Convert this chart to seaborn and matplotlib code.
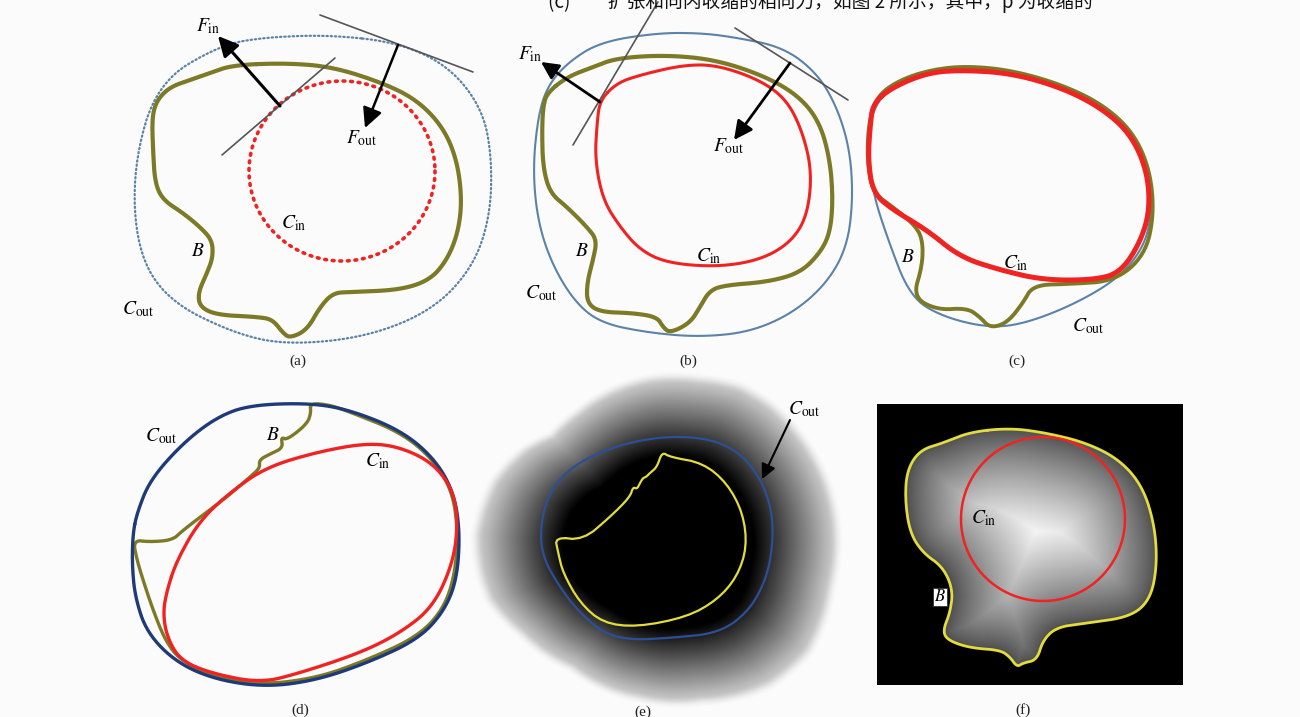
import numpy as np
import matplotlib
matplotlib.use("Agg")
import matplotlib.pyplot as plt
from matplotlib.path import Path
from matplotlib.colors import LinearSegmentedColormap
import seaborn as sns

# ---------------- data (pixel coordinates) ----------------
# panel (a)
A_COUT_X = [333, 400, 450, 483, 492, 490, 473, 433, 367, 287, 233, 167, 137, 133, 157, 220, 267]
A_COUT_Y = [35, 43, 67, 110, 160, 217, 267, 310, 337, 345, 333, 300, 250, 167, 83, 45, 37]
A_B_X = [233, 287, 333, 383, 417, 443, 457, 462, 458, 447, 430, 400, 350, 333, 320, 307, 290, 283,
         273, 260, 217, 200, 198, 207, 213, 212, 200, 183, 163, 155, 153, 152, 157, 170, 190, 210]
A_B_Y = [65, 63, 67, 83, 100, 127, 160, 200, 233, 260, 280, 290, 292, 293, 307, 330, 338, 333,
         320, 317, 315, 307, 293, 273, 257, 240, 227, 213, 200, 183, 150, 117, 100, 87, 80, 73]
A_CIN_CENTER = (342, 171)
A_CIN_RADII = (93, 90)
A_TANGENT1 = [(222, 155), (335, 58)]
A_TANGENT2 = [(320, 15), (473, 72)]
A_FIN = [(280, 106), (218, 36)]
A_FOUT = [(398, 45), (365, 128)]

# panel (b)
B_COUT_X = [657, 600, 567, 547, 538, 533, 537, 550, 573, 600, 650, 700, 750, 793, 827, 847, 853, 850,
            837, 817, 783, 733, 700]
B_COUT_Y = [33, 42, 63, 87, 117, 167, 217, 260, 300, 323, 333, 337, 332, 313, 283, 247, 200, 150,
            107, 73, 47, 37, 33]
B_B_X = [547, 567, 593, 617, 667, 717, 767, 800, 820, 830, 833, 830, 820, 800, 767, 727, 710, 700,
         690, 670, 663, 657, 633, 600, 587, 587, 593, 597, 587, 567, 550, 543, 542, 543]
B_B_Y = [93, 77, 67, 58, 55, 60, 77, 97, 123, 160, 200, 233, 253, 273, 282, 285, 290, 307,
         323, 333, 327, 317, 313, 312, 303, 283, 260, 240, 227, 207, 193, 167, 133, 107]
B_CIN_X = [600, 617, 640, 683, 717, 760, 787, 803, 812, 807, 790, 760, 717, 667, 640, 620, 603, 595, 597]
B_CIN_Y = [100, 83, 75, 65, 65, 80, 100, 133, 173, 217, 243, 260, 267, 263, 250, 227, 200, 160, 123]
B_TANGENT1 = [(573, 145), (658, 2)]
B_TANGENT2 = [(735, 28), (848, 100)]
B_FIN = [(600, 102), (541, 62)]
B_FOUT = [(790, 63), (734, 140)]

# panel (c)
C_COUT_X = [868, 872, 890, 925, 960, 1010, 1060, 1100, 1130, 1147, 1152, 1145, 1120, 1077, 1027, 990,
            943, 910, 887, 873]
C_COUT_Y = [150, 110, 88, 73, 68, 71, 85, 105, 132, 168, 210, 245, 277, 303, 323, 328,
            317, 297, 237, 193]
C_B_X = [869, 878, 900, 930, 965, 1010, 1060, 1102, 1133, 1150, 1154, 1145, 1115, 1070, 1033, 1023, 1007,
         990, 980, 967, 937, 913, 922, 923, 917, 893, 873, 867]
C_B_Y = [120, 95, 80, 70, 66, 70, 84, 104, 132, 170, 215, 255, 281, 284, 285, 303, 323,
         328, 317, 308, 310, 297, 267, 243, 227, 207, 193, 160]
C_CIN_X = [873, 893, 927, 960, 1010, 1060, 1100, 1130, 1147, 1150, 1140, 1120, 1093, 1043, 1000, 960,
           927, 893, 873, 868, 870]
C_CIN_Y = [103, 87, 73, 70, 73, 87, 107, 133, 170, 210, 243, 273, 280, 280, 270, 257,
           230, 210, 193, 160, 127]

# panel (d)
D_COUT_X = [133, 137, 150, 183, 217, 250, 310, 350, 400, 433, 453, 460, 457, 443, 417, 367, 317, 267,
            217, 177, 147, 135, 132]
D_COUT_Y = [533, 513, 480, 443, 417, 405, 403, 410, 430, 457, 490, 530, 580, 613, 640, 663, 680, 687,
            680, 663, 633, 597, 563]
D_CIN_X = [167, 177, 200, 233, 267, 317, 367, 400, 433, 453, 458, 453, 433, 400, 360, 300, 260, 210,
           180, 167, 163]
D_CIN_Y = [590, 560, 520, 490, 467, 452, 443, 447, 463, 490, 523, 563, 607, 633, 653, 673, 683, 673,
           660, 637, 613]
D_B_X = [310, 311, 307, 287, 281, 283, 270, 259, 260, 250, 227, 183, 173, 150, 133, 137, 143, 153, 165,
         180, 210, 260, 317, 367, 417, 443, 455, 458, 452, 432, 400, 350, 330]
D_B_Y = [403, 413, 424, 440, 437, 448, 454, 460, 468, 477, 497, 530, 540, 542, 540, 560, 580, 610, 640,
         660, 675, 685, 678, 660, 637, 610, 575, 530, 490, 458, 432, 412, 405]

# panel (e)
E_FIELD_CENTER = (660, 545)
E_FIELD_ANGLES = [14, 36, 52, 75, 98, 126, 147, 162, 172, 183, 201, 215, 225, 238, 252, 266, 283, 297,
                  308, 323, 335, 352]          # degrees, image orientation
E_FIELD_RADII = [178, 185, 180, 164, 157, 154, 167, 182, 185, 187, 180, 168, 156, 158, 163, 168, 172, 179,
                 180, 179, 179, 179]
E_COUT_X = [540, 547, 567, 603, 653, 703, 737, 760, 772, 773, 767, 750, 720, 670, 630, 603, 577, 557, 543]
E_COUT_Y = [530, 497, 470, 450, 437, 437, 450, 477, 510, 543, 577, 610, 633, 638, 640, 633, 610, 583, 557]
E_B_X = [555, 583, 610, 630, 633, 637, 640, 643, 646, 650, 657, 662, 670, 703, 727, 743, 747, 737, 717,
         687, 637, 603, 580, 563, 558]
E_B_Y = [537, 540, 517, 497, 487, 489, 483, 478, 477, 473, 467, 452, 457, 463, 483, 513, 547, 577, 600,
         617, 627, 623, 603, 573, 552]
E_ARROW = [(790, 420), (762, 479)]

# panel (f)
F_BOX = (877, 405, 1182, 685)
F_B_X = [970, 1010, 1047, 1087, 1120, 1143, 1155, 1157, 1150, 1130, 1087, 1057, 1043, 1037, 1023, 1017,
         1010, 1000, 970, 947, 943, 950, 953, 943, 923, 910, 905, 907, 920, 943]
F_B_Y = [432, 428, 433, 443, 460, 487, 527, 567, 600, 617, 623, 627, 640, 660, 663, 667,
         657, 650, 648, 640, 630, 613, 590, 567, 553, 533, 500, 470, 450, 443]
F_CIN_CENTER = (1043, 519)
F_CIN_RADIUS = 82

# labels
PANEL_LABELS = ["(a)", "(b)", "(c)", "(d)", "(e)", "(f)"]
PANEL_LABEL_POS = [(298, 361), (688, 361), (1017, 361), (300, 710), (643, 712), (1023, 710)]
MATH_LABELS = [
    (r"$F_{\mathrm{in}}$", 208, 26), (r"$F_{\mathrm{out}}$", 362, 138), (r"$C_{\mathrm{in}}$", 294, 223),
    (r"$B$", 198, 252), (r"$C_{\mathrm{out}}$", 138, 309),
    (r"$F_{\mathrm{in}}$", 530, 54), (r"$F_{\mathrm{out}}$", 729, 146), (r"$C_{\mathrm{in}}$", 709, 256),
    (r"$B$", 582, 252), (r"$C_{\mathrm{out}}$", 541, 293),
    (r"$B$", 908, 258), (r"$C_{\mathrm{in}}$", 1016, 263), (r"$C_{\mathrm{out}}$", 1088, 326),
    (r"$C_{\mathrm{out}}$", 161, 436), (r"$B$", 273, 436), (r"$C_{\mathrm{in}}$", 378, 461),
    (r"$C_{\mathrm{out}}$", 804, 409),
    (r"$C_{\mathrm{in}}$", 984, 518),
]
TOP_TEXT = "(c)　　扩张和向内收缩的相向力，如图 2 所示，其中，p 为收缩的"

# ---------------- styling ----------------
sns.set_theme(style="white")
plt.rcParams["mathtext.fontset"] = "stix"
plt.rcParams["font.family"] = ["Liberation Serif", "DejaVu Serif"]

BG = "#fbfbfb"
OLIVE = "#7d7a27"
STEEL = "#5b82a8"
RED = "#f02323"
NAVY = "#1f3a78"
YELLOW = "#e2dc3c"
EBLUE = "#2c4f96"
GREY_LINE = "#555555"


def chaikin(xs, ys, n=3, closed=True):
    p = np.column_stack([xs, ys]).astype(float)
    for _ in range(n):
        q = np.roll(p, -1, axis=0) if closed else p[1:]
        base = p if closed else p[:-1]
        a = 0.75 * base + 0.25 * q
        b = 0.25 * base + 0.75 * q
        p = np.empty((2 * len(a), 2))
        p[0::2] = a
        p[1::2] = b
    if closed:
        p = np.vstack([p, p[:1]])
    return p[:, 0], p[:, 1]


def curve(ax, xs, ys, color, lw, ls="-", n=3, closed=True):
    sx, sy = chaikin(xs, ys, n=n, closed=closed)
    sns.lineplot(x=sx, y=sy, sort=False, estimator=None, ax=ax, color=color,
                 linewidth=lw, linestyle=ls, solid_capstyle="round", dash_capstyle="round")
    return sx, sy


def ellipse(ax, center, radii, color, lw, ls="-"):
    t = np.linspace(0, 2 * np.pi, 400)
    sns.lineplot(x=center[0] + radii[0] * np.cos(t), y=center[1] + radii[1] * np.sin(t),
                 sort=False, estimator=None, ax=ax, color=color, linewidth=lw, linestyle=ls,
                 dash_capstyle="round")


def seg(ax, pts, color, lw):
    sns.lineplot(x=[pts[0][0], pts[1][0]], y=[pts[0][1], pts[1][1]], sort=False, estimator=None,
                 ax=ax, color=color, linewidth=lw)


def arrow(ax, pts, lw, ms, color="black"):
    ax.annotate("", xy=pts[1], xytext=pts[0],
                arrowprops=dict(arrowstyle="-|>", lw=lw, color=color, mutation_scale=ms,
                                shrinkA=0, shrinkB=0))


fig = plt.figure(figsize=(13, 7.17), dpi=100, facecolor=BG)
ax = fig.add_axes([0, 0, 1, 1])
ax.set_facecolor(BG)

fade = LinearSegmentedColormap.from_list("fade", ["#000000", BG])

# ---- panel (e) gradient field ----
ex = np.arange(455, 866)
ey = np.arange(350, 717)
EX, EY = np.meshgrid(ex, ey)
dx = EX - E_FIELD_CENTER[0]
dy = EY - E_FIELD_CENTER[1]
theta = np.degrees(np.arctan2(dy, dx)) % 360
ang = np.array([E_FIELD_ANGLES[-1] - 360] + E_FIELD_ANGLES + [E_FIELD_ANGLES[0] + 360], float)
rad = np.array([E_FIELD_RADII[-1]] + E_FIELD_RADII + [E_FIELD_RADII[0]], float)
R = np.interp(theta, ang, rad)
rho = np.hypot(dx, dy) / R
ramp = 0.86 * np.clip((rho - 0.52) / 0.48, 0, 1) ** 1.0
edge = np.clip((rho - 0.95) / 0.08, 0, 1)
edge = edge * edge * (3 - 2 * edge)
val = ramp * (1 - edge) + edge
ax.imshow(val, extent=(ex[0] - 0.5, ex[-1] + 0.5, ey[-1] + 0.5, ey[0] - 0.5), cmap=fade,
          vmin=0, vmax=1, interpolation="bilinear", zorder=0, aspect="auto")

# ---- panel (f) distance field ----
x0, y0, x1, y1 = F_BOX
fx = np.arange(x0, x1 + 1)
fy = np.arange(y0, y1 + 1)
FX, FY = np.meshgrid(fx, fy)
bx, by = chaikin(F_B_X, F_B_Y, n=3)
poly = np.column_stack([bx, by])
inside = Path(poly).contains_points(np.column_stack([FX.ravel(), FY.ravel()])).reshape(FX.shape)
dmin = np.full(FX.shape, np.inf)
for i in range(len(poly) - 1):
    ax_, ay_ = poly[i]
    bx_, by_ = poly[i + 1]
    vx, vy = bx_ - ax_, by_ - ay_
    L2 = vx * vx + vy * vy + 1e-9
    t = np.clip(((FX - ax_) * vx + (FY - ay_) * vy) / L2, 0, 1)
    d = np.hypot(FX - (ax_ + t * vx), FY - (ay_ + t * vy))
    dmin = np.minimum(dmin, d)
field = np.where(inside, 0.3 + 0.65 * (dmin / dmin[inside].max()) ** 0.85, 0.0)
ax.imshow(field, extent=(x0 - 0.5, x1 + 0.5, y1 + 0.5, y0 - 0.5), cmap="gray", vmin=0, vmax=1,
          interpolation="bilinear", zorder=0, aspect="auto")

# ---- panel (a) ----
curve(ax, A_COUT_X, A_COUT_Y, STEEL, 1.6, ls=(0, (0.6, 1.3)))
ellipse(ax, A_CIN_CENTER, A_CIN_RADII, RED, 2.6, ls=(0, (0.5, 1.6)))
curve(ax, A_B_X, A_B_Y, OLIVE, 3.0)
seg(ax, A_TANGENT1, GREY_LINE, 1.2)
seg(ax, A_TANGENT2, GREY_LINE, 1.2)
arrow(ax, A_FIN, 2.2, 30)
arrow(ax, A_FOUT, 1.8, 30)

# ---- panel (b) ----
curve(ax, B_COUT_X, B_COUT_Y, STEEL, 1.5)
curve(ax, B_B_X, B_B_Y, OLIVE, 3.0)
curve(ax, B_CIN_X, B_CIN_Y, RED, 2.2)
seg(ax, B_TANGENT1, GREY_LINE, 1.2)
seg(ax, B_TANGENT2, GREY_LINE, 1.2)
arrow(ax, B_FIN, 2.0, 26)
arrow(ax, B_FOUT, 2.0, 28)

# ---- panel (c) ----
curve(ax, C_COUT_X, C_COUT_Y, STEEL, 1.5)
curve(ax, C_B_X, C_B_Y, OLIVE, 2.8)
curve(ax, C_CIN_X, C_CIN_Y, RED, 3.6)

# ---- panel (d) ----
curve(ax, D_B_X, D_B_Y, OLIVE, 2.4)
curve(ax, D_COUT_X, D_COUT_Y, NAVY, 2.4)
curve(ax, D_CIN_X, D_CIN_Y, RED, 2.4)

# ---- panel (e) ----
curve(ax, E_COUT_X, E_COUT_Y, EBLUE, 1.6)
curve(ax, E_B_X, E_B_Y, YELLOW, 1.6, n=2)
arrow(ax, E_ARROW, 1.5, 22)

# ---- panel (f) ----
sns.lineplot(x=bx, y=by, sort=False, estimator=None, ax=ax, color=YELLOW, linewidth=2.0)
ellipse(ax, F_CIN_CENTER, (F_CIN_RADIUS, F_CIN_RADIUS), RED, 1.8)
ax.text(940, 597, "$B$", fontsize=12, color="black", ha="center", va="center",
        bbox=dict(facecolor="white", edgecolor="#333333", linewidth=0.6, pad=0.6))

# ---- labels ----
for s, x, y in MATH_LABELS:
    ax.text(x, y, s, fontsize=14, ha="center", va="center", color="black")
for s, (x, y) in zip(PANEL_LABELS, PANEL_LABEL_POS):
    ax.text(x, y, s, fontsize=11, ha="center", va="center", color="#222222")
ax.text(548, 8, TOP_TEXT, fontsize=13.5, ha="left", va="baseline", color="#111111",
        family=["Noto Sans CJK SC", "DejaVu Sans"])

ax.set_xlim(0, 1300)
ax.set_ylim(717, 0)
ax.axis("off")
fig.savefig("out.png", dpi=100, facecolor=BG)
